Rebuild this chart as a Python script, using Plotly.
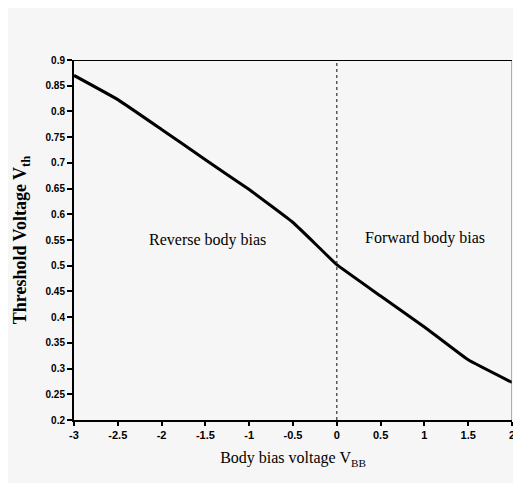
import plotly.graph_objects as go

vbb = [-3, -2.5, -2, -1.5, -1, -0.5, -0.2, 0, 0.5, 1, 1.5, 2]
vth = [0.87, 0.823, 0.765, 0.706, 0.648, 0.584, 0.535, 0.502, 0.441, 0.381, 0.317, 0.273]

x_ticks = [-3, -2.5, -2, -1.5, -1, -0.5, 0, 0.5, 1, 1.5, 2]
y_ticks = [0.2, 0.25, 0.3, 0.35, 0.4, 0.45, 0.5, 0.55, 0.6, 0.65, 0.7, 0.75, 0.8, 0.85, 0.9]

region_labels = ["Reverse body bias", "Forward body bias"]
region_x = [-1.48, 1.01]
region_y = [0.55, 0.554]

bg = "#f6f6f6"
serif = "Liberation Serif"

fig = go.Figure()
fig.add_trace(go.Scatter(x=vbb, y=vth, mode="lines",
                         line=dict(color="black", width=3, shape="spline", smoothing=0.3),
                         showlegend=False))

# divider line at V_BB = 0
fig.add_shape(type="line", x0=0, x1=0, y0=0.2, y1=0.9, xref="x", yref="y",
              line=dict(color="#333", width=1.2, dash="dot"))
# right border
fig.add_shape(type="line", x0=2, x1=2, y0=0.2, y1=0.9, xref="x", yref="y",
              line=dict(color="#666", width=1))
# top border
fig.add_shape(type="line", x0=-3, x1=2, y0=0.9, y1=0.9, xref="x", yref="y",
              line=dict(color="black", width=2))

for t, x, y in zip(region_labels, region_x, region_y):
    fig.add_annotation(x=x, y=y, text=t, showarrow=False,
                       font=dict(family=serif, size=16, color="black"))

fig.update_layout(
    width=521, height=483,
    margin=dict(l=66, r=17, t=52, b=71),
    paper_bgcolor=bg, plot_bgcolor=bg,
    xaxis=dict(range=[-3, 2], tickvals=x_ticks,
               ticktext=[f"{v:g}" for v in x_ticks],
               showgrid=False, zeroline=False,
               showline=True, linecolor="black", linewidth=2,
               ticks="outside", ticklen=4, tickcolor="black", tickwidth=1.5,
               tickfont=dict(family="Liberation Sans", size=11, color="black", weight="bold"),
               title=dict(text="Body bias voltage V<sub>BB</sub>",
                          font=dict(family=serif, size=16, color="black"), standoff=12)),
    yaxis=dict(range=[0.2, 0.9], tickvals=y_ticks,
               ticktext=[f"{v:g}" for v in y_ticks],
               showgrid=False, zeroline=False,
               showline=True, linecolor="black", linewidth=2,
               ticks="outside", ticklen=5, tickcolor="black", tickwidth=1.5,
               tickfont=dict(family="Liberation Sans", size=10, color="black", weight="bold"),
               title=dict(text="Threshold Voltage V<sub>th</sub>",
                          font=dict(family=serif, size=18, color="black", weight="bold"), standoff=14)),
)

fig.write_html("out.html")
